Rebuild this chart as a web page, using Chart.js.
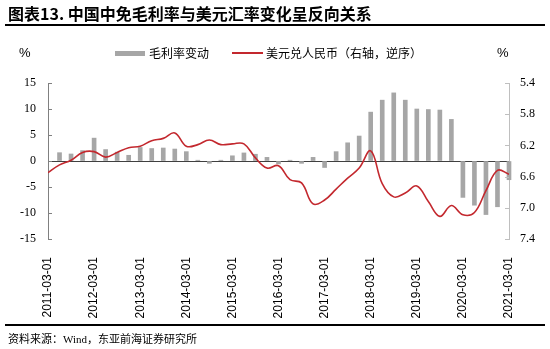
<!DOCTYPE html>
<html>
<head>
<meta charset="utf-8">
<script src="https://cdn.jsdelivr.net/npm/chart.js@4"></script>
<style>
  body { margin: 0; background: #fff; }
  #wrap { position: relative; width: 550px; height: 349px; overflow: hidden; background: #fff; }
  #chart { position: absolute; left: 0; top: 0; }
  .abs { position: absolute; white-space: nowrap; }
  .cjk { font-family: "Noto Sans CJK SC", sans-serif; color: #000; }
</style>
</head>
<body>
<div id="wrap">
  <canvas id="chart" width="550" height="349"></canvas>
  <div class="abs cjk" style="left:8px;top:4px;font-size:16px;font-weight:bold;line-height:18px;">图表13. 中国中免毛利率与美元汇率变化呈反向关系</div>
  <div class="abs" style="left:5px;top:24px;width:540px;height:2px;background:#000;"></div>

  <div class="abs" style="left:19px;top:45px;font:13px 'Liberation Sans';">%</div>
  <div class="abs" style="left:497px;top:45px;font:13px 'Liberation Sans';">%</div>

  <div class="abs" style="left:115px;top:51px;width:30px;height:5px;background:#a6a6a6;"></div>
  <div class="abs cjk" style="left:149px;top:45px;font-size:12px;line-height:15px;">毛利率变动</div>
  <div class="abs" style="left:232px;top:52px;width:31px;height:2px;background:#c3282e;"></div>
  <div class="abs cjk" style="left:266px;top:45px;font-size:12px;line-height:15px;">美元兑人民币（右轴，逆序）</div>

  <div class="abs" style="left:5px;top:324px;width:540px;height:2px;background:#000;"></div>
  <div class="abs cjk" style="left:8px;top:331px;font-size:11px;line-height:14px;">资料来源：<span style="font-family:'Liberation Serif'">Wind</span>，东亚前海证券研究所</div>
</div>

<script>
// x-axis labels (one per year)
const tickLabels = ['2011-03-01', '2012-03-01', '2013-03-01', '2014-03-01', '2015-03-01', '2016-03-01',
                    '2017-03-01', '2018-03-01', '2019-03-01', '2020-03-01', '2021-03-01'];

// gross margin change, quarterly (%)
const barDates = ['2011-06', '2011-09', '2011-12', '2012-03', '2012-06', '2012-09', '2012-12', '2013-03',
                  '2013-06', '2013-09', '2013-12', '2014-03', '2014-06', '2014-09', '2014-12', '2015-03',
                  '2015-06', '2015-09', '2015-12', '2016-03', '2016-06', '2016-09', '2016-12', '2017-03',
                  '2017-06', '2017-09', '2017-12', '2018-03', '2018-06', '2018-09', '2018-12', '2019-03',
                  '2019-06', '2019-09', '2019-12', '2020-03', '2020-06', '2020-09', '2020-12', '2021-03'];
const marginChange = [1.6, 1.35, 2.0, 4.4, 2.2, 1.7, 1.1, 2.6,
                      2.4, 2.5, 2.3, 1.8, 0.15, -0.45, 0.15, 1.0,
                      1.55, 1.3, 0.7, -0.55, 0.15, -0.45, 0.7, -1.25,
                      1.8, 3.5, 4.8, 9.4, 11.7, 13.1, 11.7, 10.0,
                      9.9, 9.8, 8.0, -7.0, -8.5, -10.3, -8.8, -3.6];

// USD/CNY (right axis, reversed)
const fxDates = ['2011-03', ...barDates];
const usdCny = [6.55, 6.45, 6.39, 6.29, 6.28, 6.35, 6.29, 6.23, 6.21,
                6.14, 6.11, 6.04, 6.21, 6.19, 6.13, 6.19, 6.18,
                6.18, 6.36, 6.49, 6.46, 6.64, 6.68, 6.95, 6.90,
                6.76, 6.62, 6.49, 6.27, 6.69, 6.86, 6.81, 6.72,
                6.92, 7.11, 6.97, 7.09, 7.06, 6.78, 6.52, 6.57];

// months since 2011-03
function monthIndex(d) {
    const [yr, mo] = d.split('-').map(Number);
    return (yr - 2011) * 12 + (mo - 3);
}
const tickMonths = tickLabels.map(l => monthIndex(l.slice(0, 7)));

// small tick marks drawn inside the plot on both value axes
const innerTicks = {
    id: 'innerTicks',
    afterDraw(chart) {
        const ctx = chart.ctx;
        const { left, right } = chart.chartArea;
        ctx.save();
        ctx.lineWidth = 1;
        ctx.strokeStyle = '#808080';
        chart.scales.y.ticks.forEach(t => {
            const y = Math.round(chart.scales.y.getPixelForValue(t.value)) + 0.5;
            ctx.beginPath(); ctx.moveTo(left, y); ctx.lineTo(left + 4, y); ctx.stroke();
        });
        ctx.strokeStyle = '#bfbfbf';
        chart.scales.y1.ticks.forEach(t => {
            const y = Math.round(chart.scales.y1.getPixelForValue(t.value)) + 0.5;
            ctx.beginPath(); ctx.moveTo(right - 4, y); ctx.lineTo(right, y); ctx.stroke();
        });
        ctx.restore();
    }
};

new Chart(document.getElementById('chart'), {
    type: 'bar',
    data: {
        datasets: [
            {
                type: 'line',
                label: '美元兑人民币（右轴，逆序）',
                data: fxDates.map((d, i) => ({ x: monthIndex(d), y: usdCny[i] })),
                yAxisID: 'y1',
                borderColor: '#c3282e',
                borderWidth: 1.6,
                pointRadius: 0,
                tension: 0.4,
                order: 0
            },
            {
                label: '毛利率变动',
                data: barDates.map((d, i) => ({ x: monthIndex(d), y: marginChange[i] })),
                yAxisID: 'y',
                backgroundColor: '#a6a6a6',
                barThickness: 4,
                clip: { left: 0, top: 0, right: 3, bottom: 0 },
                order: 1
            }
        ]
    },
    options: {
        responsive: false,
        animation: false,
        devicePixelRatio: 1,
        layout: { padding: { top: 83, bottom: 30, left: 0, right: 0 } },
        plugins: { legend: { display: false }, tooltip: { enabled: false } },
        scales: {
            x: {
                type: 'linear',
                min: 0,
                max: 120,
                offset: false,
                afterBuildTicks: scale => { scale.ticks = tickMonths.map(v => ({ value: v })); },
                afterFit: scale => {
                    scale.height = 80;
                    scale.paddingLeft = 0;
                    scale.paddingRight = 0;
                },
                grid: { display: false, offset: false },
                border: { display: false },
                ticks: {
                    autoSkip: false,
                    minRotation: 90,
                    maxRotation: 90,
                    padding: 10,
                    color: '#000',
                    font: { family: '"Liberation Sans", sans-serif', size: 12 },
                    callback: v => tickLabels[tickMonths.indexOf(v)]
                }
            },
            y: {
                position: 'left',
                min: -15,
                max: 15,
                afterFit: scale => { scale.width = 48; },
                border: { display: true, color: '#808080', width: 1 },
                grid: {
                    drawTicks: false,
                    lineWidth: 1,
                    color: c => c.tick && c.tick.value === 0 ? '#404040' : 'rgba(0,0,0,0)'
                },
                ticks: {
                    stepSize: 5,
                    padding: 12,
                    color: '#000',
                    font: { family: '"Liberation Serif", serif', size: 12 }
                }
            },
            y1: {
                position: 'right',
                reverse: true,
                min: 5.4,
                max: 7.4,
                afterFit: scale => { scale.width = 41; },
                border: { display: true, color: '#bfbfbf', width: 1 },
                grid: { display: false, drawTicks: false },
                ticks: {
                    stepSize: 0.2,
                    padding: 11,
                    color: '#000',
                    font: { family: '"Liberation Serif", serif', size: 12 },
                    callback: v => Number(v).toFixed(1)
                }
            }
        }
    },
    plugins: [innerTicks]
});
</script>
</body>
</html>
